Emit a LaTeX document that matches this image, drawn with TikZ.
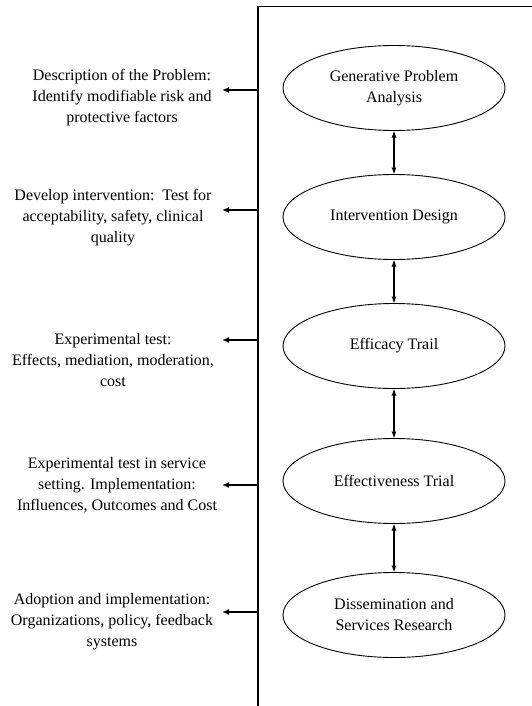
\documentclass[tikz,border=0pt]{standalone}
\usepackage{fontspec}
\setmainfont{Liberation Serif}
\usetikzlibrary{shapes.geometric,arrows.meta}
\begin{document}
\begin{tikzpicture}[x=1pt,y=-1pt,
  stage/.style={ellipse, draw, line width=0.9pt, minimum width=222pt, minimum height=85pt, inner sep=0pt, outer sep=0pt, align=center, font=\fontsize{16}{21}\selectfont},
  desc/.style={align=center, font=\fontsize{16}{21}\selectfont, inner sep=0pt},
  outarrow/.style={-{Latex[length=7pt,width=6pt]}, line width=1.6pt},
  link/.style={{Latex[length=7pt,width=5pt]}-{Latex[length=7pt,width=5pt]}, line width=1.2pt}]
\useasboundingbox (0,0) rectangle (532,706);
\coordinate (frameTop) at (258,6);
\coordinate (frameBot) at (258,706);
\coordinate (frameRight) at (532,6);
\draw[line width=1.5pt] (frameBot) -- (frameTop);
\draw[line width=0.9pt] (frameTop) -- (frameRight);

\node[stage] (s1) at (394,88) {Generative Problem\\Analysis};
\node[stage] (s2) at (394,217) {Intervention Design};
\node[stage] (s3) at (394,346) {Efficacy Trail};
\node[stage] (s4) at (394,481) {Effectiveness Trial};
\node[stage] (s5) at (394,615) {Dissemination and\\Services Research};

\draw[link] (s1.south) -- (s2.north);
\draw[link] (s2.south) -- (s3.north);
\draw[link] (s3.south) -- (s4.north);
\draw[link] (s4.south) -- (s5.north);

\node[desc] (d1) at (122,98) {Description of the Problem:\\Identify modifiable risk and\\protective factors};
\node[desc] (d2) at (113,218) {Develop intervention:\ \ Test for\\acceptability, safety, clinical\\quality};
\node[desc] (d3) at (113,360) {Experimental test:\\Effects, mediation, moderation,\\cost};
\node[desc] (d4) at (117,485) {Experimental test in service\\setting. Implementation:\\Influences, Outcomes and Cost};
\node[desc] (d5) at (112,622) {Adoption and implementation:\\Organizations, policy, feedback\\systems};

\foreach \i/\yy in {1/90,2/210,3/340,4/485,5/612}{
  \coordinate (a\i) at (258,\yy);
  \coordinate (t\i) at (222,\yy);
  \draw[outarrow] (a\i) -- (t\i);
}
\end{tikzpicture}
\end{document}
